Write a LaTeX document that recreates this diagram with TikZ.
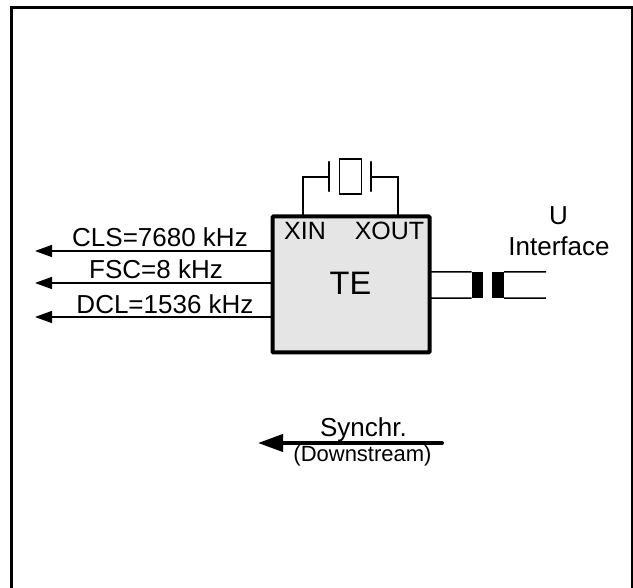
\documentclass[tikz,border=0pt]{standalone}
\usepackage{fontspec}
\setmainfont{Liberation Sans}
\usetikzlibrary{arrows.meta, calc}

\begin{document}
\begin{tikzpicture}[x=1pt, y=-1pt,
    % Define the styles for the signals and the block
    signal/.style={line width=1.5pt, {Triangle[length=17pt, width=12pt]}-},
    synchr/.style={line width=4pt, line cap=round, {Triangle[length=25pt, width=17pt]}-},
    wire/.style={line width=1.5pt},
    plate/.style={line width=2.5pt, line cap=round},
    lbl/.style={inner sep=0pt, font=\fontsize{26}{26}\selectfont},
    pinlbl/.style={inner sep=0pt, font=\fontsize{25}{25}\selectfont},
    smalllbl/.style={inner sep=0pt, font=\fontsize{22}{22}\selectfont}
]
\useasboundingbox (0,0) rectangle (633,588);

% Define the points of the frame
\coordinate (FL) at (11,588);
\coordinate (FTL) at (11,8);
\coordinate (FTR) at (632,8);
\coordinate (FR) at (632,588);
\draw[line width=3pt] (FL) -- (FTL) -- (FTR) -- (FR);

% Draw the block
\node[draw, line width=4pt, fill=black!10, rounded corners=1pt, minimum width=157pt, minimum height=136pt, inner sep=0pt] (TE) at (351,284.5) {};
\node[inner sep=0pt, font=\fontsize{32.5}{32.5}\selectfont, anchor=base] (TElabel) at (350.5,295) {TE};
\node[pinlbl, anchor=base] (XIN) at (305,240) {XIN};
\node[pinlbl, anchor=base] (XOUT) at (389.5,240) {XOUT};

% Draw the crystal
\coordinate (PL) at (329,177);
\coordinate (PR) at (371,177);
\coordinate (XL) at (303,216);
\coordinate (XR) at (398,216);
\node[draw, line width=1.5pt, minimum width=22pt, minimum height=35pt, inner sep=0pt] (crystal) at (350.5,176.5) {};
\draw[plate] (329,162) -- (329,191);
\draw[plate] (371,162) -- (371,191);
\draw[wire] (XL) |- (PL);
\draw[wire] (XR) |- (PR);

% Draw the clock outputs
\coordinate (C1) at (272,251);
\coordinate (C2) at (272,283);
\coordinate (C3) at (272,317);
\coordinate (A1) at (35,251);
\coordinate (A2) at (35,283);
\coordinate (A3) at (35,317);
\draw[signal] (A1) -- (C1);
\draw[signal] (A2) -- (C2);
\draw[signal] (A3) -- (C3);
\node[lbl, anchor=base] (CLS) at (160,247) {CLS=7680 kHz};
\node[lbl, anchor=base] (FSC) at (156,279) {FSC=8 kHz};
\node[lbl, anchor=base] (DCL) at (165,314) {DCL=1536 kHz};

% Draw the transformer
\node[fill=black, minimum width=11.5pt, minimum height=26pt, inner sep=0pt] (coilL) at (477.5,285) {};
\node[fill=black, minimum width=12pt, minimum height=26pt, inner sep=0pt] (coilR) at (498,285) {};
\coordinate (UT) at (546,272);
\coordinate (UB) at (546,298);
\coordinate (TT) at (430,272);
\coordinate (TB) at (430,298);
\draw[wire] (TT) -- (coilL.north west);
\draw[wire] (TB) -- (coilL.south west);
\draw[wire] (coilR.north east) -- (UT);
\draw[wire] (coilR.south east) -- (UB);
\node[lbl, anchor=base] (U) at (558.5,225) {U};
\node[lbl, anchor=base] (Interface) at (559,256) {Interface};

% Draw the synchronisation arrow
\coordinate (SA) at (258,443);
\coordinate (SB) at (442,443);
\draw[synchr] (SA) -- (SB);
\node[lbl, anchor=base] (Synchr) at (363.5,437) {Synchr.};
\node[smalllbl, anchor=base] (Down) at (362.5,462) {(Downstream)};

\end{tikzpicture}
\end{document}
